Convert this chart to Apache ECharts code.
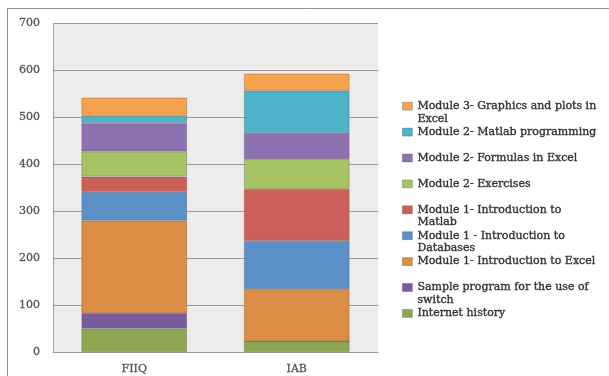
<!DOCTYPE html>
<html>
<head>
<meta charset="utf-8">
<script src="https://cdn.jsdelivr.net/npm/echarts@6/dist/echarts.min.js"></script>
<style>
  html, body { margin: 0; padding: 0; background: #fff; }
  #chart { width: 609px; height: 376px; }
</style>
</head>
<body>
<div id="chart"></div>
<script>
// Groups (x axis)
var categories = ['FIIQ', 'IAB'];

// Stacked series, bottom to top
var seriesNames = [
  'Internet history',
  'Sample program for the use of switch',
  'Module 1- Introduction to Excel',
  'Module 1 - Introduction to Databases',
  'Module 1- Introduction to Matlab',
  'Module 2- Exercises',
  'Module 2- Formulas in Excel',
  'Module 2- Matlab programming',
  'Module 3- Graphics and plots in Excel'
];

// How each legend entry wraps
var legendLabels = [
  ['Internet history'],
  ['Sample program for the use of', 'switch'],
  ['Module 1- Introduction to Excel'],
  ['Module 1 - Introduction to', 'Databases'],
  ['Module 1- Introduction to', 'Matlab'],
  ['Module 2- Exercises'],
  ['Module 2- Formulas in Excel'],
  ['Module 2- Matlab programming'],
  ['Module 3- Graphics and plots in', 'Excel']
];

var internetHistory   = [50, 23];
var sampleSwitch      = [33, 0];
var introExcel        = [197, 111];
var introDatabases    = [61, 103];
var introMatlab       = [33, 110];
var exercises         = [53, 64];
var formulasExcel     = [61, 56];
var matlabProgramming = [15, 90];
var graphicsPlots     = [39, 36];

var seriesValues = [
  internetHistory, sampleSwitch, introExcel, introDatabases, introMatlab,
  exercises, formulasExcel, matlabProgramming, graphicsPlots
];

var colors = [
  '#8CA652', '#7A5A9A', '#D98D45', '#5B8FC8', '#CC5F58',
  '#A7C464', '#8C72B0', '#4CB3CB', '#F6A24F'
];

var yTicks = [0, 100, 200, 300, 400, 500, 600, 700];

var serif = 'DejaVu Serif';

var chart = echarts.init(document.getElementById('chart'), null, { renderer: 'canvas' });

var series = seriesNames.map(function (name, i) {
  return {
    name: name,
    type: 'bar',
    stack: 'total',
    barWidth: '65%',
    data: seriesValues[i],
    itemStyle: {
      color: colors[i],
      borderColor: 'rgba(80,60,40,0.35)',
      borderWidth: 0.8
    }
  };
});

var wrapped = {};
seriesNames.forEach(function (n, i) { wrapped[n] = legendLabels[i]; });

chart.setOption({
  animation: false,
  color: colors,
  graphic: [{
    type: 'rect',
    shape: { x: 7.5, y: 8.5, width: 700, height: 500 },
    style: { fill: 'none', stroke: '#8f8f8f', lineWidth: 1 },
    silent: true,
    z: -10
  }],
  grid: {
    left: 53,
    right: 231,
    top: 23.5,
    bottom: 24,
    show: true,
    backgroundColor: '#ECECEC',
    borderWidth: 0
  },
  legend: {
    orient: 'vertical',
    left: 402,
    top: 87,
    padding: 0,
    itemWidth: 10,
    itemHeight: 8,
    itemGap: -12.5,
    icon: 'rect',
    data: seriesNames.slice().reverse(),
    itemStyle: { borderColor: 'rgba(60,60,60,0.35)', borderWidth: 0.8 },
    formatter: function (name) {
      var lines = wrapped[name];
      // keep the first text line level with the icon
      return ' \n' + lines[0] + '\n' + (lines[1] || ' ');
    },
    textStyle: {
      fontFamily: serif,
      fontSize: 11,
      lineHeight: 12.8,
      color: '#333',
      textBorderColor: '#333',
      textBorderWidth: 0.35
    }
  },
  xAxis: {
    type: 'category',
    data: categories,
    axisTick: { show: false },
    axisLine: { show: true, lineStyle: { color: '#9a9a9a', width: 1 } },
    axisLabel: {
      margin: 12,
      fontFamily: serif,
      fontSize: 11,
      color: '#555',
      textBorderColor: '#555',
      textBorderWidth: 0.3
    }
  },
  yAxis: {
    type: 'value',
    min: yTicks[0],
    max: yTicks[yTicks.length - 1],
    interval: 100,
    axisTick: { show: false },
    axisLine: { show: true, lineStyle: { color: '#a0a0a0', width: 1 } },
    splitLine: { show: true, lineStyle: { color: '#9a9a9a', width: 1 } },
    axisLabel: {
      margin: 13,
      fontFamily: serif,
      fontSize: 11,
      color: '#555',
      textBorderColor: '#555',
      textBorderWidth: 0.3
    }
  },
  series: series
});
</script>
</body>
</html>
